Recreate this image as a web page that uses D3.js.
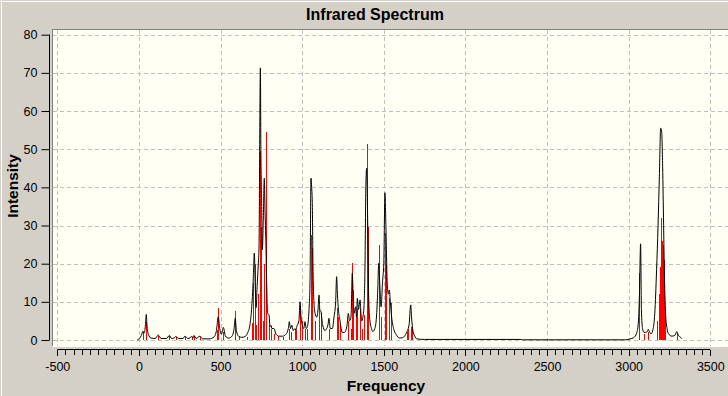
<!DOCTYPE html>
<html><head><meta charset="utf-8">
<script src="https://cdn.jsdelivr.net/npm/d3@7"></script>
<style>
html,body{margin:0;padding:0;background:#d4d0c8;}
svg{display:block;}
text{font-family:"Liberation Sans",Arial,sans-serif;}
</style></head>
<body>
<script>
// ---- data ----
const title = "Infrared Spectrum";
const xLabel = "Frequency";
const yLabel = "Intensity";
const xTicks = [-500,0,500,1000,1500,2000,2500,3000,3500];
const yTicks = [0,10,20,30,40,50,60,70,80];

// red stick spectrum: frequency (cm-1) and intensity
const stickFreq = [23,43,119,186,225,282,323,337,374,480,486,517,590,610,660,
  695,700,710,715,731,740,750,758,768,777,797,809,827,850,880,921,930,956,962,987,997,1017,1032,
  1054,1060,1079,1103,1115,1164,1211,1218,1232,1283,1299,1307,1313,1328,1338,1355,1365,1379,1395,1401,
  1469,1483,1507,1513,1534,1542,1640,1650,1665,1671,
  3066,3094,3120,3172,3183,3190,3196,3203,3208,3214,3220,3294];
const stickInt = [2.2,4.8,1.0,1.0,0.8,0.8,0.8,1.0,0.8,2.5,8.3,2.0,7.6,0.8,0.8,
  4.5,15,20,4,12,49.4,29.7,5,20,54.6,4,3,1.5,1,0.8,3,2,3,2.6,8,5,3,3,
  27.5,24,5,8.3,7,3,8.3,6,4,5,3,20.1,13,6,8,8,3,6.6,51.4,29.7,
  24.9,6,28,20,11,9.6,2,3,3.5,3,
  17.5,1.5,2,5,12,19,32,26,25,21,8,1.5];

// black broadened spectrum: points
const curveFreq = [-10,15,25,32,40,45,50,58,74,100,119,135,170,186,200,215,225,245,270,282,300,315,323,330,337,350,374,390,430,460,475,486,495,505,517,530,550,570,583,590,597,610,630,650,665,680,690,700,707,712,718,724,731,736,740,744,747,752,756,762,768,773,777,782,788,797,803,809,815,827,840,860,880,900,915,921,928,936,945,956,962,967,980,987,993,1000,1010,1017,1025,1032,1042,1048,1054,1058,1062,1066,1072,1079,1090,1097,1103,1108,1115,1125,1140,1150,1158,1164,1172,1185,1195,1205,1211,1216,1222,1232,1245,1260,1275,1283,1290,1299,1307,1312,1318,1328,1333,1338,1345,1355,1360,1365,1372,1379,1385,1390,1395,1399,1403,1408,1415,1425,1432,1445,1455,1462,1469,1475,1483,1493,1500,1507,1513,1521,1528,1534,1540,1548,1560,1575,1595,1615,1630,1645,1655,1665,1670,1678,1690,1702,1750,2340,2350,2980,3010,3030,3049,3060,3066,3073,3078,3085,3094,3105,3115,3120,3127,3137,3150,3160,3171,3180,3188,3196,3202,3208,3214,3218,3226,3235,3243,3265,3285,3294,3305,3315,3325];
const curveInt = [0,1.2,2.3,1.8,4,6.7,3.5,1.5,0.5,0.4,1.3,0.4,0.4,1.2,0.4,0.5,0.9,0.4,0.4,1.0,0.4,0.6,1.0,0.5,1.2,0.4,1.0,0.3,0.3,0.8,2.5,6.1,3,1.5,3.3,1,0.5,1.0,3,5.7,2.5,1.0,0.7,0.9,1.8,4,8,15.7,22.8,15,8.5,14,19.7,25,52.7,71.3,50,35,23.6,32,42.4,33,27,16,7,6.6,3.5,3.8,3,3,1.5,1.0,1.0,1.5,3,4.8,3,3.9,2.5,3,2.6,3.5,5,10,6,4,3,4.8,3,3.5,8,15,42.4,40,36,20,10,7,6,8,11.8,8,7.5,4,2.5,3,4,5.7,3,3,6,10,16.6,12,8,5,2,2,4,7,5,6,17.5,12,7,8.7,6,10.9,8,10.5,7,5,6,9,20,40,45,38,25,10,5,3,2.2,3,6,12,20.1,15,8.7,15.7,20,38.6,29.7,14.9,12,13.1,10,6,3,1.5,0.5,0.6,1.2,2.5,4,9.2,6,2.5,1,0.3,0.15,0.15,0.05,0.05,0.3,0.6,1.8,5,12,25.2,8,3,2,2,2.3,2.8,2.2,1.6,3,7,18.4,30,42.8,55.5,54.6,45.5,30,19.2,7,3,1.7,1,1.3,2.2,1.2,0.8,0.4];

// ---- drawing ----
const W = 728, H = 396;
const svg = d3.select("body").append("svg").attr("width", W).attr("height", H);

svg.append("rect").attr("width", W).attr("height", H).attr("fill", "#d4d0c8");
svg.append("line").attr("x1",0).attr("x2",W).attr("y1",1.5).attr("y2",1.5).attr("stroke","#ffffff");
svg.append("line").attr("x1",1.5).attr("x2",1.5).attr("y1",0).attr("y2",H).attr("stroke","#ffffff");

const plot = {x0:52, y0:29, x1:728, y1:346};
svg.append("rect").attr("x",plot.x0).attr("y",plot.y0)
  .attr("width",plot.x1-plot.x0).attr("height",plot.y1-plot.y0).attr("fill","#fffff4");
svg.append("line").attr("x1",plot.x0).attr("x2",plot.x1).attr("y1",plot.y0+0.5).attr("y2",plot.y0+0.5).attr("stroke","#808080");
svg.append("line").attr("x1",plot.x0+0.5).attr("x2",plot.x0+0.5).attr("y1",plot.y0).attr("y2",plot.y1).attr("stroke","#808080");
svg.append("line").attr("x1",plot.x0).attr("x2",plot.x1).attr("y1",plot.y1+0.5).attr("y2",plot.y1+0.5).attr("stroke","#ffffff");

const x = d3.scaleLinear().domain([-500,3500]).range([57.3,710.3]);
const y = d3.scaleLinear().domain([0,80]).range([340,34.7]);

// grid
const grid = svg.append("g").attr("stroke","#c0c0c0").attr("stroke-dasharray","4,3").attr("shape-rendering","crispEdges");
grid.selectAll(".gx").data(xTicks).join("line")
  .attr("x1",d=>Math.round(x(d))+0.5).attr("x2",d=>Math.round(x(d))+0.5)
  .attr("y1",plot.y0+1).attr("y2",plot.y1);
grid.selectAll(".gy").data(yTicks).join("line")
  .attr("y1",d=>Math.round(y(d))+0.5).attr("y2",d=>Math.round(y(d))+0.5)
  .attr("x1",plot.x0+1).attr("x2",plot.x1);

// clip
svg.append("clipPath").attr("id","clip").append("rect")
  .attr("x",plot.x0+1).attr("y",plot.y0+1).attr("width",plot.x1-plot.x0-1).attr("height",plot.y1-plot.y0-1);
const g = svg.append("g").attr("clip-path","url(#clip)");

// sticks
const sticks = stickFreq.map((f,i)=>({f, v:stickInt[i]}));
g.selectAll(".stick").data(sticks).join("line")
  .attr("x1",d=>Math.round(x(d.f))+0.5).attr("x2",d=>Math.round(x(d.f))+0.5)
  .attr("y1",y(0)).attr("y2",d=>y(d.v))
  .attr("stroke","#ff0000").attr("stroke-width",1).attr("shape-rendering","crispEdges");

// curve
const pts = curveFreq.map((f,i)=>[f, curveInt[i]]);
g.append("path").datum(pts)
  .attr("d", d3.line().x(d=>x(d[0])).y(d=>y(d[1])).curve(d3.curveMonotoneX))
  .attr("fill","none").attr("stroke","#000").attr("stroke-width",1);

const fmt = d => String(d);

// y axis
const yAxis = d3.axisLeft(y).tickValues(yTicks).tickSize(8).tickPadding(4).tickFormat(fmt);
const ya = svg.append("g").attr("transform","translate(49.5,0)").call(yAxis);
ya.select(".domain").attr("d", `M0,${y(80)}V${y(0)}`).attr("stroke","#000");
ya.selectAll("text").attr("font-size","12.5px").attr("fill","#000").attr("font-family","Liberation Sans, Arial, sans-serif");

// x axis
const xMinor = d3.range(-500,3501,50);
const xa = svg.append("g").attr("transform","translate(0,349.5)");
xa.append("line").attr("x1",x(-500)).attr("x2",x(3500)).attr("stroke","#000");
xa.selectAll(".mt").data(xMinor).join("line")
  .attr("x1",d=>Math.round(x(d))+0.5).attr("x2",d=>Math.round(x(d))+0.5)
  .attr("y1",0).attr("y2",d=> d%500===0 ? 6 : 5)
  .attr("stroke","#000").attr("shape-rendering","crispEdges");
const xAxis = d3.axisBottom(x).tickValues(xTicks).tickSize(0).tickPadding(13).tickFormat(fmt);
const xg = svg.append("g").attr("transform","translate(0,349.5)").call(xAxis);
xg.select(".domain").remove();
xg.selectAll("text").attr("font-size","12.5px").attr("fill","#000").attr("font-family","Liberation Sans, Arial, sans-serif");

// titles
svg.append("text").attr("x",375).attr("y",20).attr("text-anchor","middle")
  .attr("font-size","16px").attr("font-weight","bold").text(title);
svg.append("text").attr("x",386).attr("y",391).attr("text-anchor","middle")
  .attr("font-size","15.5px").attr("font-weight","bold").text(xLabel);
svg.append("text").attr("transform","translate(18,186) rotate(-90)").attr("text-anchor","middle")
  .attr("font-size","15.5px").attr("font-weight","bold").text(yLabel);
</script>
</body></html>
